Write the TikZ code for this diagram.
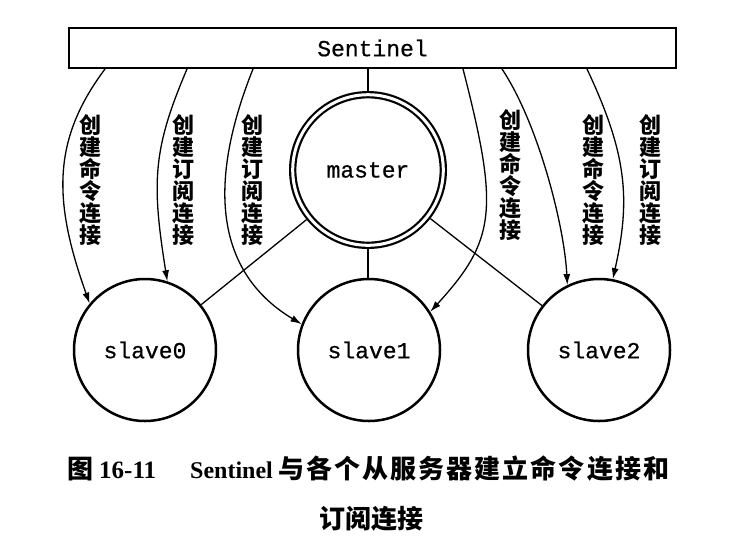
\documentclass[tikz,border=0pt]{standalone}
\usepackage{fontspec}
\usetikzlibrary{arrows.meta}
\newfontfamily\cjk{Noto Sans CJK SC}
\newfontfamily\cjkcap{Noto Sans CJK SC}[LetterSpace=8]
\newfontfamily\monof{Liberation Mono}[FakeBold=0.6]
\newfontfamily\capserif{Liberation Serif}
\begin{document}
\begin{tikzpicture}[x=1pt,y=-1pt,
  box/.style={draw, line width=2.4pt, minimum width=606.6pt, minimum height=39.6pt, inner sep=0pt, font=\monof\fontsize{23}{23}\selectfont},
  slavenode/.style={circle, draw, line width=2.5pt, minimum size=142pt, inner sep=0pt, font=\monof\fontsize{23}{23}\selectfont},
  masternode/.style={circle, draw, line width=2.2pt, double, double distance=3pt, minimum size=150.6pt, outer sep=3.7pt, inner sep=0pt, font=\monof\fontsize{23}{23}\selectfont},
  link/.style={line width=1.3pt},
  conn/.style={line width=1.3pt, -{Latex[length=11pt,width=7pt]}},
  vlabel/.style={font=\cjk\bfseries\fontsize{22}{22}\selectfont, align=center, inner sep=0pt},
  capcjk/.style={font=\cjk\bfseries\fontsize{26}{26}\selectfont, inner sep=0pt},
  caplat/.style={font=\capserif\bfseries\fontsize{24}{24}\selectfont, inner sep=0pt}
]
\fill[white] (0,0) rectangle (735,542);
\useasboundingbox (0,0) rectangle (735,542);

% nodes
\node[box] (sen) at (372.5,48) {Sentinel};
\node[masternode] (master) at (368,170) {master};
\node[slavenode] (s0) at (145,350) {slave0};
\node[slavenode] (s1) at (369,350) {slave1};
\node[slavenode] (s2) at (599,350) {slave2};

% plain links
\draw[link] (master.north) -- (master.north |- sen.south);
\draw[link] (master.south) -- (master.south |- s1.north);
\draw[link] (master) -- (s0);
\draw[link] (master) -- (s2);

% arrow start points on the Sentinel box
\coordinate (a1) at ([xshift=-267.5pt]sen.south);
\coordinate (a2) at ([xshift=-185.5pt]sen.south);
\coordinate (a3) at ([xshift=-119.5pt]sen.south);
\coordinate (a4) at ([xshift=90.5pt]sen.south);
\coordinate (a5) at ([xshift=129.5pt]sen.south);
\coordinate (a6) at ([xshift=214.5pt]sen.south);

% connections
\draw[conn] (a1) .. controls +(-54,72) and +(-36,-101) .. (s0.140);
\draw[conn] (a2) .. controls +(-34,80) and +(-16,-100) .. (s0.72);
\draw[conn] (a3) .. controls +(-50,125) and +(-80,-48) .. (s1.159);
\draw[conn] (a4) .. controls +(36,140) and +(66,-72) .. (s1.32);
\draw[conn] (a5) .. controls +(36,54) and +(-3,-60) .. (s2.116);
\draw[conn] (a6) .. controls +(40,85) and +(18,-80) .. (s2.79);

% vertical labels
\node[vlabel] (l1) at (90,180) {创\\建\\命\\令\\连\\接};
\node[vlabel] (l2) at (183,180) {创\\建\\订\\阅\\连\\接};
\node[vlabel] (l3) at (252,180) {创\\建\\订\\阅\\连\\接};
\node[vlabel] (l4) at (510,175) {创\\建\\命\\令\\连\\接};
\node[vlabel] (l5) at (593,180) {创\\建\\命\\令\\连\\接};
\node[vlabel] (l6) at (650,180) {创\\建\\订\\阅\\连\\接};

% caption
\node[capcjk, anchor=base west] (c1) at (67,478) {图};
\node[caplat, anchor=base west, font=\capserif\bfseries\fontsize{25}{25}\selectfont] (c2) at (99,478) {16-11};
\node[caplat, anchor=base west] (c3) at (190,478) {Sentinel};
\node[capcjk, anchor=base west, font=\cjkcap\bfseries\fontsize{26}{26}\selectfont] (c4) at (278,478) {与各个从服务器建立命令连接和};
\node[capcjk, anchor=base] (c5) at (371,528) {订阅连接};
\end{tikzpicture}
\end{document}
